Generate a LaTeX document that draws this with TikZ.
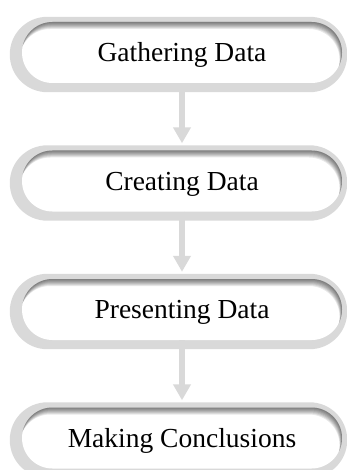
\documentclass[tikz,border=0pt]{standalone}
\usepackage{fontspec}
\setmainfont{Liberation Serif}
\usetikzlibrary{arrows.meta,backgrounds}

\begin{document}
\begin{tikzpicture}[x=1pt, y=1pt,
                stage box/.style={rectangle, rounded corners=30.5pt, fill=white,
                  minimum width=320pt, minimum height=61pt, inner sep=0pt,
                  font=\fontsize{27.5}{32}\selectfont, text height=18pt, text depth=0pt,
                  path picture={
                    \foreach \d in {1,...,7}
                      \fill[black, opacity=0.09, even odd rule]
                        ([shift={(-50pt,-50pt)}]path picture bounding box.south west)
                          rectangle ([shift={(50pt,50pt)}]path picture bounding box.north east)
                        ([shift={(-0.35pt*\d,-\d pt)}]path picture bounding box.south west)
                          [rounded corners=30.5pt] rectangle
                          ([shift={(-0.35pt*\d,-\d pt)}]path picture bounding box.north east);
                  }},
                rim/.style={fill=gray!30, rounded corners=37.5pt},
                flow/.style={-{Triangle[width=17pt,length=16pt]}, color=gray!30,
                  line width=6.5pt, shorten >=7pt}]

  \useasboundingbox (0,0) rectangle (346,-470);

  \node[stage box] (gather)   at (182,-52.5)  {Gathering Data};
  \node[stage box] (create)   at (182,-181)   {Creating Data};
  \node[stage box] (present)  at (182,-309.5) {Presenting Data};
  \node[stage box] (conclude) at (182,-438)   {Making Conclusions};

  % grey rims behind the boxes
  \begin{scope}[on background layer]
    \foreach \n in {gather,create,present,conclude}
      \fill[rim] ([shift={(-12pt,5pt)}]\n.north west) rectangle ([shift={(5pt,-9pt)}]\n.south east);
  \end{scope}

  \draw[flow] (gather) -- (create);
  \draw[flow] (create) -- (present);
  \draw[flow] (present) -- (conclude);
\end{tikzpicture}
\end{document}
